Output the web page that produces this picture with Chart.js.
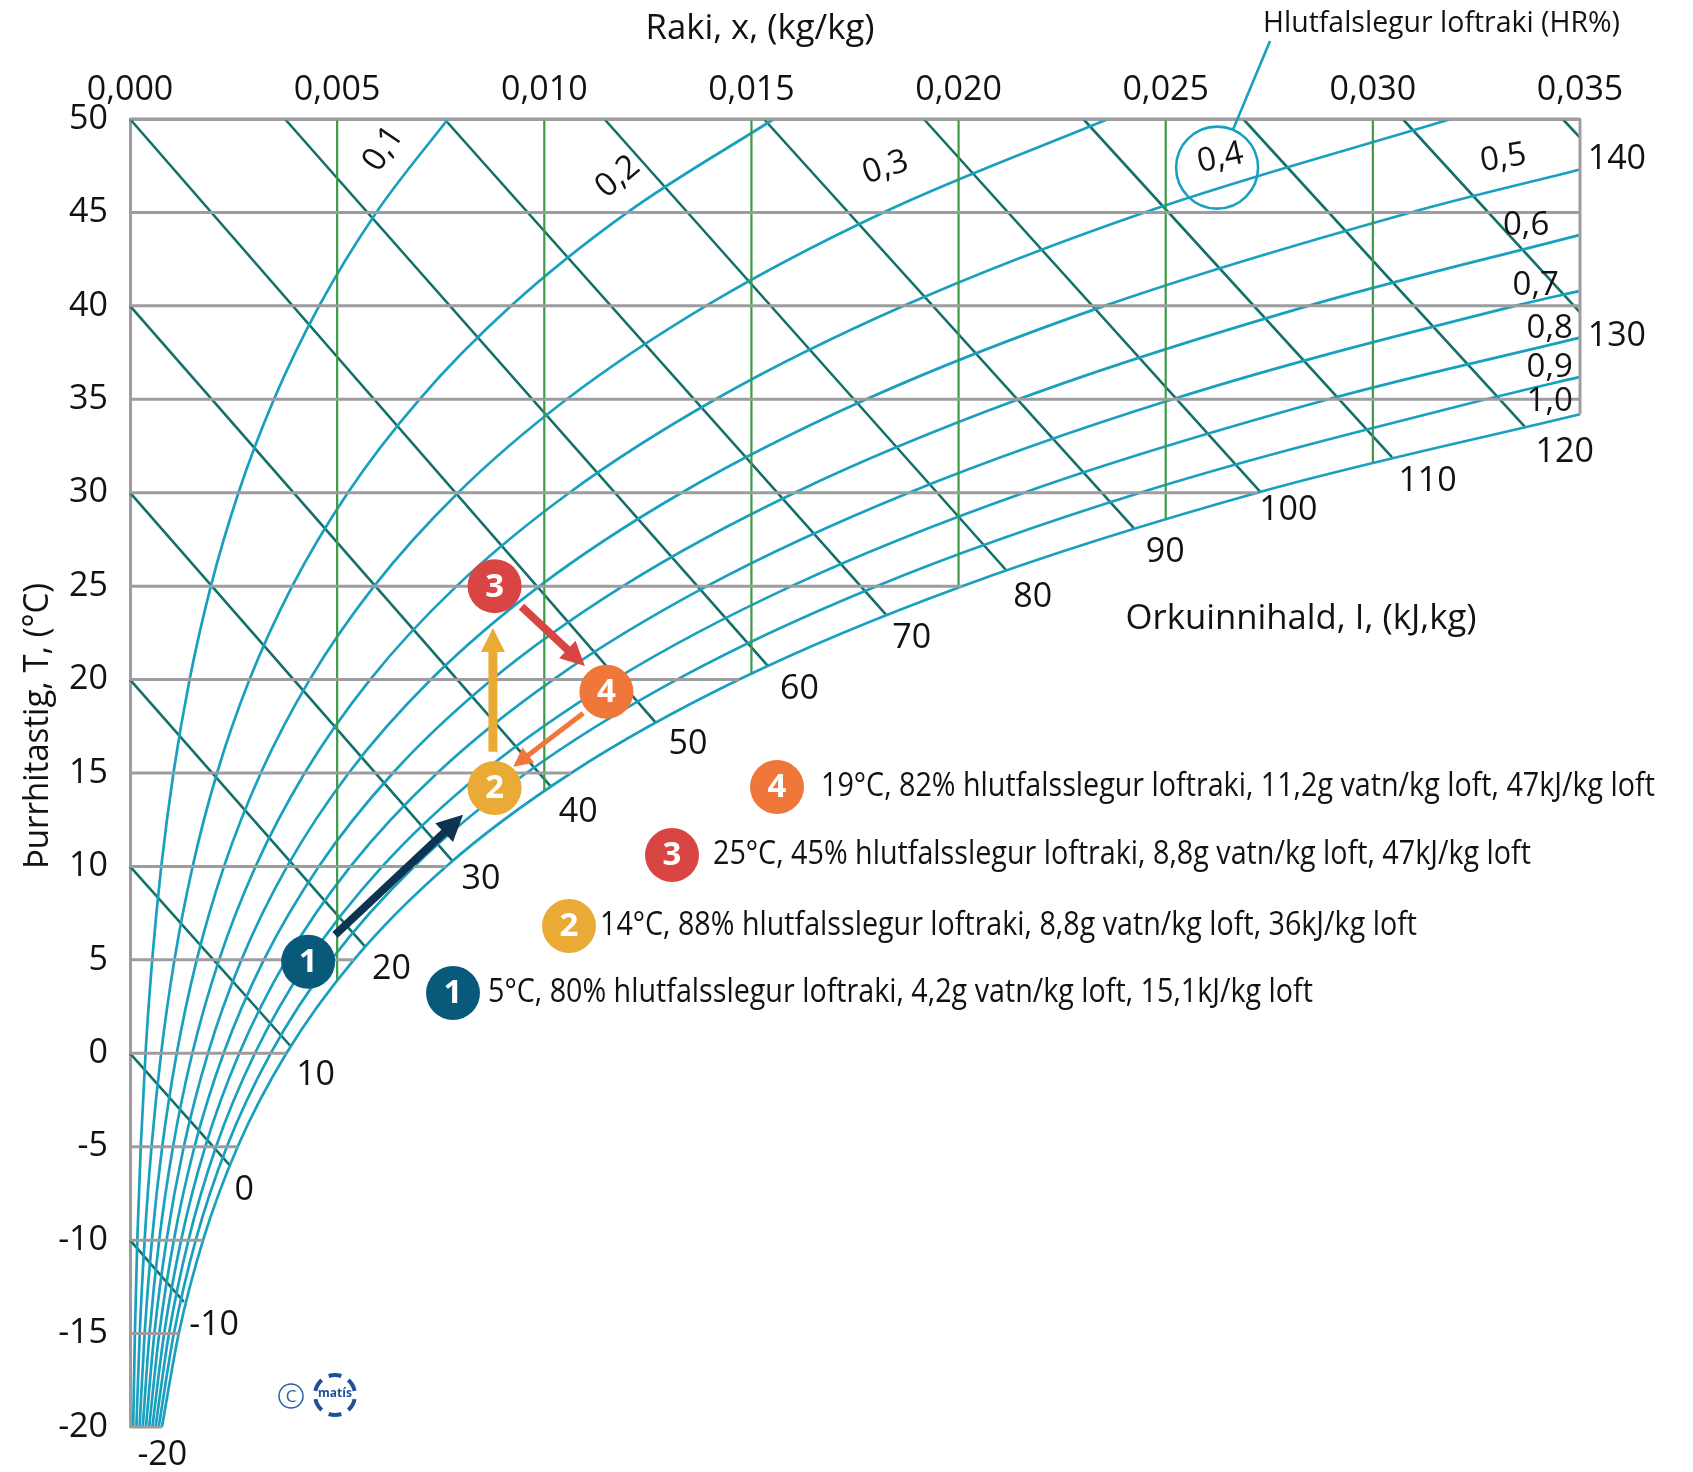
<!DOCTYPE html>
<html>
<head>
<meta charset="utf-8">
<script src="https://cdn.jsdelivr.net/npm/chart.js@4.4.1/dist/chart.umd.min.js"></script>
<style>
  html, body { margin: 0; padding: 0; background: #fff; overflow: hidden; }
  #wrap { position: relative; width: 1693px; height: 1472px; }
</style>
</head>
<body>
<div id="wrap"><canvas id="chart"></canvas></div>
<script>
// --- data (humidity ratio x in kg/kg, temperature T in degC) ---
const tempSteps = [-20, -15, -10, -5, 0, 5, 10, 15, 20, 25, 30, 35, 40, 45, 50];
const xTickValues = [0, 0.005, 0.010, 0.015, 0.020, 0.025, 0.030, 0.035];
const yTickValues = [-20, -15, -10, -5, 0, 5, 10, 15, 20, 25, 30, 35, 40, 45, 50];

const rhLabels = ['0,1', '0,2', '0,3', '0,4', '0,5', '0,6', '0,7', '0,8', '0,9', '1,0'];
const rh10 = [0.000077, 0.000118, 0.000176, 0.00026, 0.000375, 0.000536, 0.000755, 0.001049, 0.001439, 0.001952, 0.002618, 0.003475, 0.004566, 0.005946, 0.007676];
const rh20 = [0.000154, 0.000235, 0.000353, 0.00052, 0.000751, 0.001073, 0.001512, 0.002101, 0.002885, 0.003916, 0.005258, 0.006988, 0.0092, 0.012007, 0.015543];
const rh30 = [0.000231, 0.000353, 0.000529, 0.000778, 0.001128, 0.001611, 0.00227, 0.003157, 0.004338, 0.005893, 0.00792, 0.010541, 0.013903, 0.018186, 0.023609];
const rh40 = [0.000308, 0.000471, 0.000705, 0.001038, 0.001504, 0.00215, 0.003031, 0.004217, 0.005797, 0.007882, 0.010605, 0.014135, 0.018677, 0.024486, 0.031883];
const rh50 = [0.000385, 0.000588, 0.000882, 0.001298, 0.001882, 0.00269, 0.003793, 0.00528, 0.007264, 0.009884, 0.013314, 0.01777, 0.023522, 0.030912];
const rh60 = [0.000462, 0.000706, 0.001058, 0.001557, 0.002259, 0.003231, 0.004557, 0.006347, 0.008737, 0.011898, 0.016045, 0.021446, 0.028442];
const rh70 = [0.000539, 0.000824, 0.001234, 0.001817, 0.002638, 0.003772, 0.005323, 0.007417, 0.010217, 0.013925, 0.0188, 0.025165, 0.033437];
const rh80 = [0.000616, 0.000941, 0.001411, 0.002077, 0.003016, 0.004315, 0.006091, 0.008491, 0.011704, 0.015966, 0.021579, 0.028927];
const rh90 = [0.000693, 0.001059, 0.001587, 0.002337, 0.003395, 0.004859, 0.00686, 0.009569, 0.013198, 0.018019, 0.024382, 0.032733];
const rh100 = [0.00077, 0.001177, 0.001764, 0.002598, 0.003775, 0.005403, 0.007632, 0.01065, 0.014699, 0.020086, 0.02721];
const rhCurves = [rh10, rh20, rh30, rh40, rh50, rh60, rh70, rh80, rh90, rh100];
// temperature where a curve leaves the chart through the right edge (x = 0.035)
const rhExitT = [null, null, null, null, 47.3, 43.8, 40.8, 38.3, 36.2, 34.2];

// horizontal temperature lines end at the saturation curve
const gridEndX = [0.00077, 0.00118, 0.00176, 0.0026, 0.00377, 0.0054, 0.00763, 0.01065, 0.0147, 0.02009, 0.02721, 0.035, 0.035, 0.035, 0.035];
// vertical humidity lines end at the saturation curve
const greenX = [0.005, 0.010, 0.015, 0.020, 0.025, 0.030];
const greenEndT = [3.9, 14.0, 20.3, 24.9, 28.6, 31.6];

// enthalpy lines (kJ/kg)
const enthalpyVals = [-10, 0, 10, 20, 30, 40, 50, 60, 70, 80, 90, 100, 110, 120, 130, 140];
const enthalpyStartX = [0, 0, 0, 0, 0, 0, 0, 0.00374, 0.00759, 0.01145, 0.0153, 0.01916, 0.02301, 0.02687, 0.03072, 0.03458];
const enthalpyStartT = [-10, 0, 10, 20, 30, 40, 50, 50, 50, 50, 50, 50, 50, 50, 50, 50];
const enthalpyEndX = [0.0013, 0.00241, 0.00389, 0.00568, 0.00778, 0.01015, 0.01269, 0.01539, 0.01826, 0.02115, 0.02423, 0.0273, 0.03046, 0.03366, 0.035, 0.035];
const enthalpyEndT = [-13.3, -6.0, 0.35, 5.7, 10.3, 14.3, 17.7, 20.75, 23.45, 25.85, 28.1, 30.0, 31.9, 33.55, 39.65, 49.0];
const enthalpyLabels = ['-20', '-10', '0', '10', '20', '30', '40', '50', '60', '70', '80', '90', '100', '110', '120', '130', '140'];

// air states
const stateNames = ['1', '2', '3', '4'];
const stateX = [0.0043, 0.0088, 0.0088, 0.0115];
const stateT = [4.9, 14.2, 25.0, 19.35];
const stateText = [
  '5°C, 80% hlutfalsslegur loftraki, 4,2g vatn/kg loft, 15,1kJ/kg loft',
  '14°C, 88% hlutfalsslegur loftraki, 8,8g vatn/kg loft, 36kJ/kg loft',
  '25°C, 45% hlutfalsslegur loftraki, 8,8g vatn/kg loft, 47kJ/kg loft',
  '19°C, 82% hlutfalsslegur loftraki, 11,2g vatn/kg loft, 47kJ/kg loft'
];
const arrowFromX = [0.00495, 0.00876, 0.00945, 0.01094];
const arrowFromT = [6.34, 16.14, 23.9, 18.2];
const arrowToX = [0.00804, 0.00876, 0.01098, 0.00925];
const arrowToT = [12.76, 22.76, 20.73, 15.34];

// --- styling / layout ---
const FONT = '"Open Sans", "Noto Sans", sans-serif';
const GRAY = '#9d9da0';
const GREEN = '#3d9a47';
const CYAN = '#19a0bf';
const TEAL = '#137069';
const TEXT = '#121212';
const stateColors = ['#08597a', '#e9aa36', '#d94542', '#f0773a'];
const arrowColors = ['#0c3452', '#e9aa36', '#d94542', '#f0773a'];
const arrowWidths = [8, 9, 8, 5];
const arrowHeads = [26, 24, 24, 19];

// label anchors, in chart units
const rhLabelAt = [[0.00612, 48.4, -56], [0.01178, 46.9, -40], [0.01824, 47.4, -18], [0.02632, 47.9, -12], [0.03315, 47.9, -9],
  [0.0337, 44.3, 0], [0.03393, 41.1, 0], [0.03427, 38.8, 0], [0.03427, 36.7, 0], [0.03427, 34.9, 0]];
const enthalpyLabelAt = [[0.00078, -21.5], [0.00203, -14.55], [0.00276, -7.33], [0.00448, -1.16], [0.00631, 4.5], [0.00847, 9.3],
  [0.01082, 12.87], [0.01347, 16.51], [0.01616, 19.5], [0.01887, 22.23], [0.02179, 24.42], [0.02499, 26.79], [0.02796, 29.04],
  [0.03132, 30.6], [0.03463, 32.16], [0.03589, 38.39], [0.03589, 47.86]];
const legendLayout = [[453, 993, 488, 825], [569, 926, 600, 817], [672, 855, 713, 818], [777, 787, 821, 834]];

function seg(data, color, width, extra) {
  return Object.assign({
    data: data, showLine: true, borderColor: color, borderWidth: width,
    pointRadius: 0, fill: false, clip: false, tension: 0
  }, extra || {});
}

const datasets = [];
tempSteps.forEach((t, i) => datasets.push(seg([{ x: 0, y: t }, { x: gridEndX[i], y: t }], GRAY, 3)));
datasets.push(seg([{ x: 0.035, y: 50 }, { x: 0.035, y: rhExitT[9] }], GRAY, 3));
greenX.forEach((x, i) => datasets.push(seg([{ x: x, y: 50 }, { x: x, y: greenEndT[i] }], GREEN, 2.2)));
rhCurves.forEach((vals, i) => {
  const pts = vals.map((v, j) => ({ x: v, y: tempSteps[j] }));
  if (rhExitT[i] !== null) pts.push({ x: 0.035, y: rhExitT[i] });
  datasets.push(seg(pts, CYAN, 2.7, { cubicInterpolationMode: 'monotone' }));
});
enthalpyVals.forEach((h, i) => {
  datasets.push(seg([{ x: enthalpyStartX[i], y: enthalpyStartT[i] }, { x: enthalpyEndX[i], y: enthalpyEndT[i] }], TEAL, 2.6));
});

function text(ctx, str, x, y, size, opts) {
  opts = opts || {};
  ctx.save();
  ctx.font = (opts.weight || '') + ' ' + size + 'px ' + FONT;
  ctx.fillStyle = opts.color || TEXT;
  ctx.textAlign = opts.align || 'center';
  ctx.textBaseline = 'middle';
  ctx.translate(x, y);
  if (opts.rot) ctx.rotate(opts.rot * Math.PI / 180);
  if (opts.maxWidth) ctx.fillText(str, 0, 0, opts.maxWidth); else ctx.fillText(str, 0, 0);
  ctx.restore();
}

function badge(ctx, x, y, r, color, label) {
  ctx.beginPath();
  ctx.arc(x, y, r, 0, Math.PI * 2);
  ctx.fillStyle = color;
  ctx.fill();
  text(ctx, label, x, y + 1, 33, { color: '#fff', weight: 'bold' });
}

function arrow(ctx, x1, y1, x2, y2, color, width, head) {
  const a = Math.atan2(y2 - y1, x2 - x1);
  const bx = x2 - Math.cos(a) * head * 0.9, by = y2 - Math.sin(a) * head * 0.9;
  ctx.strokeStyle = color;
  ctx.fillStyle = color;
  ctx.lineWidth = width;
  ctx.lineCap = 'butt';
  ctx.beginPath(); ctx.moveTo(x1, y1); ctx.lineTo(bx, by); ctx.stroke();
  const hw = head * 0.5;
  ctx.beginPath();
  ctx.moveTo(x2, y2);
  ctx.lineTo(x2 - Math.cos(a) * head - Math.sin(a) * hw, y2 - Math.sin(a) * head + Math.cos(a) * hw);
  ctx.lineTo(x2 - Math.cos(a) * head + Math.sin(a) * hw, y2 - Math.sin(a) * head - Math.cos(a) * hw);
  ctx.closePath();
  ctx.fill();
}

const decorations = {
  id: 'decorations',
  afterDatasetsDraw(chart) {
    const ctx = chart.ctx;
    const sx = chart.scales.x, sy = chart.scales.y;
    const P = (x, t) => [sx.getPixelForValue(x), sy.getPixelForValue(t)];
    ctx.save();

    // arrows between states
    arrowFromX.forEach((x, i) => {
      const a = P(x, arrowFromT[i]), b = P(arrowToX[i], arrowToT[i]);
      arrow(ctx, a[0], a[1], b[0], b[1], arrowColors[i], arrowWidths[i], arrowHeads[i]);
    });
    // state markers
    stateX.forEach((x, i) => {
      const p = P(x, stateT[i]);
      badge(ctx, p[0], p[1], 27, stateColors[i], stateNames[i]);
    });

    // relative humidity labels
    rhLabels.forEach((l, i) => {
      const p = P(rhLabelAt[i][0], rhLabelAt[i][1]);
      text(ctx, l, p[0], p[1], 33, { rot: rhLabelAt[i][2] });
    });
    // circle around 0,4 and the leader to its caption
    const c = P(0.02624, 47.4);
    ctx.strokeStyle = CYAN;
    ctx.lineWidth = 2.6;
    ctx.beginPath(); ctx.arc(c[0], c[1], 41, 0, Math.PI * 2); ctx.stroke();
    ctx.beginPath(); ctx.moveTo(1270, 41); ctx.lineTo(c[0] + 16, c[1] - 38); ctx.stroke();
    text(ctx, 'Hlutfalslegur loftraki (HR%)', 1263, 24, 29, { align: 'left', maxWidth: 357 });

    // enthalpy labels
    enthalpyLabels.forEach((l, i) => {
      const p = P(enthalpyLabelAt[i][0], enthalpyLabelAt[i][1]);
      text(ctx, l, p[0], p[1], 34);
    });
    text(ctx, 'Orkuinnihald, I, (kJ,kg)', 1301, 619, 35, { maxWidth: 351 });

    // axis titles
    text(ctx, 'Raki, x, (kg/kg)', 760, 29, 35, { maxWidth: 229 });
    text(ctx, 'Þurrhitastig, T, (°C)', 38, 726, 35, { rot: -90, maxWidth: 286 });

    // legend
    legendLayout.forEach((lay, i) => {
      badge(ctx, lay[0], lay[1], 27, stateColors[i], stateNames[i]);
      text(ctx, stateText[i], lay[2], lay[1], 32, { align: 'left', maxWidth: lay[3] });
    });

    // copyright + logo
    ctx.strokeStyle = '#2c5ea8';
    ctx.lineWidth = 1.5;
    ctx.beginPath(); ctx.arc(291, 1396, 12, 0, Math.PI * 2); ctx.stroke();
    text(ctx, 'C', 291, 1397, 17, { color: '#2c5ea8' });
    ctx.strokeStyle = '#1f4e9a';
    ctx.lineWidth = 4;
    for (let k = 0; k < 6; k++) {
      const a0 = -Math.PI / 2 + k * Math.PI / 3 - 0.32;
      ctx.beginPath(); ctx.arc(335, 1395, 20, a0, a0 + 0.64); ctx.stroke();
    }
    text(ctx, 'matís', 335, 1394, 12, { color: '#1f4e9a', weight: 'bold' });

    ctx.restore();
  }
};

const tickFont = { family: FONT, size: 34 };

new Chart(document.getElementById('chart'), {
  type: 'scatter',
  data: { datasets: datasets },
  options: {
    responsive: true,
    maintainAspectRatio: false,
    animation: false,
    events: [],
    layout: { padding: { left: 0, top: 0, right: 113, bottom: 45 } },
    plugins: { legend: { display: false }, tooltip: { enabled: false } },
    scales: {
      x: {
        type: 'linear', position: 'top', min: 0, max: 0.035,
        grid: { display: false },
        border: { display: true, color: GRAY, width: 3 },
        afterBuildTicks: s => { s.ticks = xTickValues.map(v => ({ value: v })); },
        afterFit: s => { s.height = 119; },
        ticks: {
          font: tickFont, color: TEXT, padding: 0, autoSkip: false, maxRotation: 0,
          callback: v => v.toFixed(3).replace('.', ',')
        }
      },
      y: {
        type: 'linear', position: 'left', min: -20, max: 50,
        grid: { display: false },
        border: { display: true, color: GRAY, width: 3 },
        afterBuildTicks: s => { s.ticks = yTickValues.map(v => ({ value: v })); },
        afterFit: s => { s.width = 130; },
        ticks: { font: tickFont, color: TEXT, padding: 14, autoSkip: false, callback: v => String(v) }
      }
    }
  },
  plugins: [decorations]
});
</script>
</body>
</html>
